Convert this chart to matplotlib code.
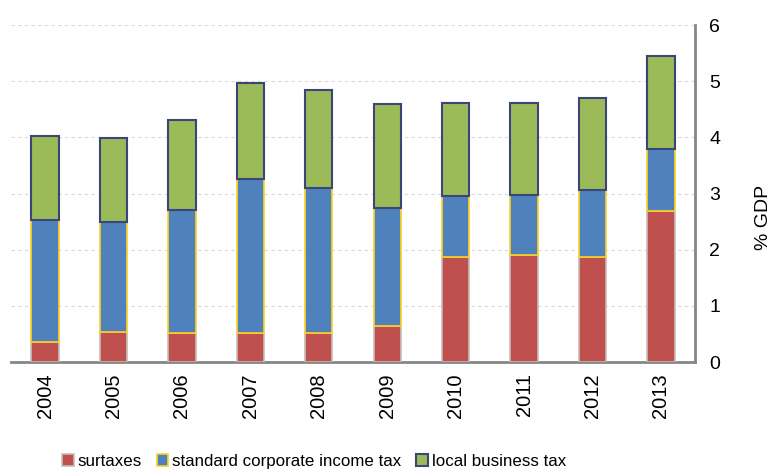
import numpy as np
import matplotlib.pyplot as plt

plt.rcParams['font.family'] = ['Liberation Sans', 'DejaVu Sans']

years = ['2004', '2005', '2006', '2007', '2008', '2009', '2010', '2011', '2012', '2013']
# cumulative tops of each layer, % of GDP
surtaxes = [0.36, 0.54, 0.52, 0.51, 0.51, 0.64, 1.87, 1.90, 1.87, 2.68]
corp_top = [2.53, 2.49, 2.71, 3.26, 3.10, 2.75, 2.95, 2.98, 3.06, 3.80]
total = [4.02, 3.99, 4.31, 4.96, 4.85, 4.59, 4.62, 4.62, 4.70, 5.44]

corp_tax = np.array(corp_top) - np.array(surtaxes)
local_tax = np.array(total) - np.array(corp_top)

fig = plt.figure(figsize=(7.75, 4.72), dpi=100)
ax = fig.add_axes([0.014, 0.233, 0.883, 0.714])

x = np.arange(len(years))
w = 0.4
ax.bar(x, surtaxes, w, color='#c0504d', edgecolor='#c8bcb6', linewidth=1.2,
       label='surtaxes', zorder=3)
ax.bar(x, corp_tax, w, bottom=surtaxes, color='#4f81bd', edgecolor='#ffd21f',
       linewidth=1.2, label='standard corporate income tax', zorder=3)
ax.bar(x, local_tax, w, bottom=corp_top, color='#9bbb59', edgecolor='#3b4577',
       linewidth=1.5, label='local business tax', zorder=3)

ax.set_xlim(-0.5, 9.5)
ax.set_ylim(0, 6)
ax.set_xticks(x)
ax.set_xticklabels(years, rotation=90, fontsize=14.5)
ax.yaxis.tick_right()
ax.yaxis.set_label_position('right')
ax.set_yticks(range(7))
ax.tick_params(axis='y', labelsize=14, length=0, pad=10)
ax.tick_params(axis='x', length=0, pad=8)
ax.set_ylabel('% GDP', fontsize=14)
ax.yaxis.set_label_coords(1.088, 0.43)

ax.grid(axis='y', color='#d9d9d9', linestyle=(0, (3, 3)), linewidth=0.8, zorder=0)
for s in ['top', 'left']:
    ax.spines[s].set_visible(False)
for s in ['bottom', 'right']:
    ax.spines[s].set_color('#868686')
    ax.spines[s].set_linewidth(2)

fig.legend(loc='lower center', bbox_to_anchor=(0.405, -0.025), ncol=3, frameon=False,
           fontsize=12.2, handlelength=0.7, handleheight=0.7, handletextpad=0.2,
           columnspacing=0.9)

fig.savefig('out.png', dpi=100)
